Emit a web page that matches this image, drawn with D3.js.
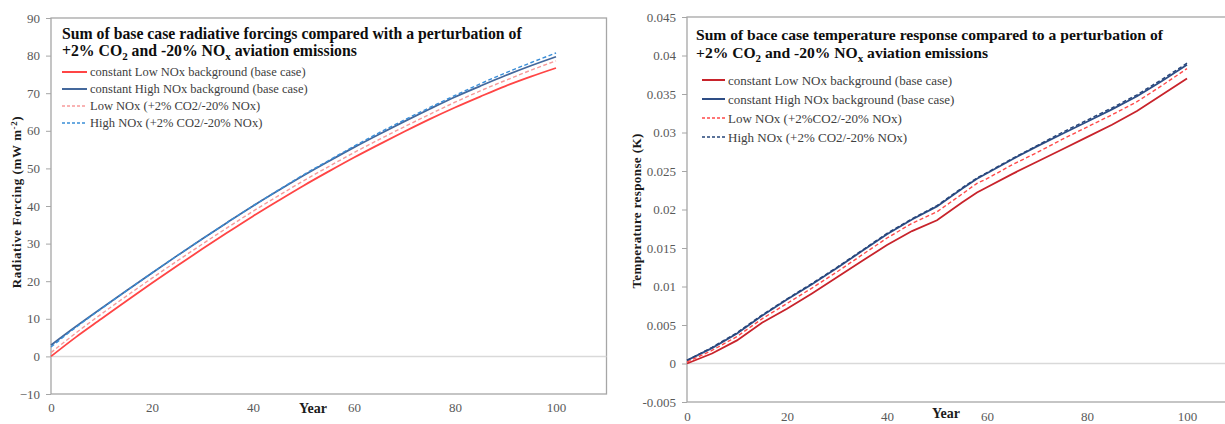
<!DOCTYPE html>
<html>
<head>
<meta charset="utf-8">
<script src="https://cdn.jsdelivr.net/npm/d3@7"></script>
<style>
  body { margin: 0; background: #fff; }
  svg text { font-family: "Liberation Serif", "Times New Roman", serif; }
</style>
</head>
<body>
<div id="chart"></div>
<script>
// Radiative forcing panel (mW m-2)
const rfYears = [0, 5, 10, 15, 20, 25, 30, 35, 40, 45, 50, 55, 60, 65, 70, 75, 80, 85, 90, 95, 100];
const rfLowBase = [0, 5.2, 10, 14.8, 19.5, 24.1, 28.6, 33, 37.3, 41.4, 45.4, 49.2, 52.9, 56.4, 59.8, 63.1, 66.2, 69.1, 71.9, 74.4, 76.7];
const rfHighBase = [3, 8, 12.8, 17.5, 22.2, 26.8, 31.3, 35.7, 40, 44.1, 48.1, 51.9, 55.6, 59.1, 62.5, 65.8, 69, 71.9, 74.7, 77.3, 79.7];
const rfLowPert = [1, 6.3, 11.3, 16.1, 20.8, 25.4, 29.9, 34.3, 38.6, 42.7, 46.7, 50.5, 54.2, 57.7, 61.1, 64.4, 67.6, 70.6, 73.4, 76.1, 78.6];
const rfHighPert = [2.5, 7.8, 12.7, 17.5, 22.2, 26.8, 31.3, 35.7, 40, 44.2, 48.3, 52.1, 55.9, 59.5, 62.9, 66.2, 69.4, 72.5, 75.4, 78.1, 80.7];

// Temperature response panel (K)
const tYears = [0, 5, 10, 15, 20, 25, 30, 35, 40, 45, 50, 55, 58, 60, 65, 70, 75, 80, 85, 90, 95, 100];
const tLowBase = [0, 0.0013, 0.0030, 0.0053, 0.0071, 0.0091, 0.0112, 0.0133, 0.0154, 0.0172, 0.0186, 0.0209, 0.0222, 0.0229, 0.0246, 0.0262, 0.0278, 0.0294, 0.0310, 0.0328, 0.0349, 0.0370];
const tHighBase = [0.0004, 0.0020, 0.0039, 0.0062, 0.0083, 0.0103, 0.0124, 0.0146, 0.0168, 0.0187, 0.0204, 0.0227, 0.0240, 0.0247, 0.0265, 0.0282, 0.0298, 0.0314, 0.0330, 0.0347, 0.0367, 0.0388];
const tLowPert = [0.0002, 0.0017, 0.0035, 0.0058, 0.0078, 0.0098, 0.0119, 0.0141, 0.0163, 0.0182, 0.0197, 0.0220, 0.0234, 0.0240, 0.0258, 0.0274, 0.0291, 0.0307, 0.0323, 0.0340, 0.0361, 0.0383];
const tHighPert = [0.0004, 0.0021, 0.0040, 0.0063, 0.0084, 0.0104, 0.0125, 0.0147, 0.0169, 0.0188, 0.0205, 0.0228, 0.0241, 0.0248, 0.0266, 0.0283, 0.0300, 0.0316, 0.0332, 0.0349, 0.0369, 0.0390];

const legendNamesRf = ["constant Low NOx background (base case)", "constant High NOx background (base case)", "Low NOx (+2% CO2/-20% NOx)", "High NOx (+2% CO2/-20% NOx)"];
const legendNamesT = ["constant Low NOx background (base case)", "constant High NOx background (base case)", "Low NOx (+2%CO2/-20% NOx)", "High NOx (+2% CO2/-20% NOx)"];
const xTicks = [0, 20, 40, 60, 80, 100];
const rfTicks = [-10, 0, 10, 20, 30, 40, 50, 60, 70, 80, 90];
const tTicks = [-0.005, 0, 0.005, 0.01, 0.015, 0.02, 0.025, 0.03, 0.035, 0.04, 0.045];

const serif = "'Liberation Serif', 'Times New Roman', serif";

const svg = d3.select("#chart")
  .append("svg")
  .attr("width", 1225)
  .attr("height", 424);

function panel(cfg) {
  const x = d3.scaleLinear().domain([0, 110]).range([cfg.left, cfg.left + cfg.pxPerYear * 110]);
  const y = d3.scaleLinear().domain(cfg.yDomain).range([cfg.bottom, cfg.top]);
  const g = svg.append("g");

  // plot box
  g.append("rect")
    .attr("x", x(0)).attr("y", y(cfg.yDomain[1]))
    .attr("width", x(110) - x(0)).attr("height", y(cfg.yDomain[0]) - y(cfg.yDomain[1]))
    .attr("fill", "none").attr("stroke", "#a6a6a6").attr("stroke-width", 1.3);

  // zero line
  g.append("line")
    .attr("x1", x(0)).attr("x2", x(110))
    .attr("y1", y(0)).attr("y2", y(0))
    .attr("stroke", "#d9d9d9").attr("stroke-width", 1.5);

  // y axis
  const yAxis = d3.axisLeft(y).tickValues(cfg.yTicks).tickSize(5).tickPadding(6).tickFormat(cfg.fmt);
  g.append("g")
    .attr("transform", `translate(${x(0)},0)`)
    .call(yAxis)
    .attr("font-family", serif).attr("font-size", 13)
    .call(a => a.select(".domain").remove())
    .call(a => a.selectAll("line").attr("stroke", "#a6a6a6"))
    .call(a => a.selectAll("text").attr("fill", "#595959"));

  // x axis labels
  const xAxis = d3.axisBottom(x).tickValues(xTicks).tickSize(0).tickPadding(cfg.xPad);
  g.append("g")
    .attr("transform", `translate(0,${y(cfg.yDomain[0])})`)
    .call(xAxis)
    .attr("font-family", serif).attr("font-size", 13)
    .call(a => a.select(".domain").remove())
    .call(a => a.selectAll("text").attr("fill", "#595959"));

  g.append("text")
    .attr("x", cfg.yearX).attr("y", cfg.yearY)
    .attr("text-anchor", "middle")
    .style("font-size", "14px").style("font-weight", "bold").attr("fill", "#1a1a1a")
    .text("Year");

  // y title
  const yt = g.append("text")
    .attr("transform", `translate(${cfg.yTitleX},${cfg.yTitleY}) rotate(-90)`)
    .attr("text-anchor", "middle")
    .style("font-size", "13px").style("font-weight", "bold").attr("fill", "#1a1a1a")
    .style("letter-spacing", cfg.yTitleSpacing);
  cfg.yTitle(yt);

  // title, two lines
  g.append("text")
    .attr("x", cfg.titleX).attr("y", cfg.titleY)
    .style("font-size", cfg.titleFont).style("font-weight", "bold").attr("fill", "#0d0d0d")
    .text(cfg.title);
  const t2 = g.append("text")
    .attr("x", cfg.titleX).attr("y", cfg.titleY + cfg.titleGap)
    .style("font-size", cfg.titleFont).style("font-weight", "bold").attr("fill", "#0d0d0d");
  t2.append("tspan").text("+2% CO");
  t2.append("tspan").attr("dy", 4).style("font-size", "11px").text("2");
  t2.append("tspan").attr("dy", -4).text(" and -20% NO");
  t2.append("tspan").attr("dy", 4).style("font-size", "11px").text("x");
  t2.append("tspan").attr("dy", -4).text(" aviation emissions");

  // lines
  const line = d3.line()
    .x(d => x(d[0]))
    .y(d => y(d[1]))
    .curve(cfg.curve);

  cfg.series.forEach(s => {
    g.append("path")
      .datum(cfg.years.map((yr, i) => [yr, s.values[i]]))
      .attr("fill", "none")
      .attr("stroke", s.color)
      .attr("stroke-width", s.dash ? 1.4 : 1.8)
      .attr("stroke-dasharray", s.dash ? "4,2.5" : null)
      .attr("d", line);
  });

  // legend
  cfg.series.forEach((s, i) => {
    const ly = cfg.legendY + i * cfg.legendStep;
    g.append("line")
      .attr("x1", cfg.legendX).attr("x2", cfg.legendX + cfg.sampleW)
      .attr("y1", ly).attr("y2", ly)
      .attr("stroke", s.color)
      .attr("stroke-width", s.dash ? 1.4 : 2)
      .attr("stroke-dasharray", s.dash ? "3,2" : null);
    g.append("text")
      .attr("x", cfg.legendX + cfg.sampleW + 3).attr("y", ly)
      .attr("dy", "0.35em")
      .style("font-size", cfg.legendFont).attr("fill", "#404040")
      .text(cfg.names[i]);
  });
}

panel({
  left: 51, pxPerYear: 5.05, top: 18, bottom: 394,
  yDomain: [-10, 90], yTicks: rfTicks, fmt: d3.format("d"), xPad: 9,
  yearX: 313, yearY: 413,
  yTitleX: 21, yTitleY: 202, yTitleSpacing: "0.6px",
  yTitle: t => {
    t.append("tspan").text("Radiative  Forcing  (mW m");
    t.append("tspan").attr("dy", -4).style("font-size", "9px").text("-2");
    t.append("tspan").attr("dy", 4).text(")");
  },
  titleX: 62, titleY: 39, titleGap: 17, titleFont: "15.75px",
  title: "Sum of base case radiative forcings compared with a perturbation of",
  years: rfYears, curve: d3.curveMonotoneX,
  series: [
    { values: rfLowBase, color: "#ff4545", dash: false },
    { values: rfHighBase, color: "#44689c", dash: false },
    { values: rfLowPert, color: "#f79a9a", dash: true },
    { values: rfHighPert, color: "#3a8ed8", dash: true }
  ],
  names: legendNamesRf,
  legendX: 62, legendY: 72, legendStep: 17, sampleW: 25, legendFont: "12.5px"
});

panel({
  left: 687, pxPerYear: 5.0, top: 17, bottom: 402,
  yDomain: [-0.005, 0.045], yTicks: tTicks, fmt: d => d === 0 ? "0" : String(+d.toFixed(3)), xPad: 10,
  yearX: 946, yearY: 418,
  yTitleX: 641, yTitleY: 211, yTitleSpacing: "0.4px",
  yTitle: t => {
    t.text("Temperature  response  (K)");
  },
  titleX: 696, titleY: 40, titleGap: 18, titleFont: "15.6px",
  title: "Sum of bace case temperature response compared to a perturbation of",
  years: tYears, curve: d3.curveLinear,
  series: [
    { values: tLowBase, color: "#c8232b", dash: false },
    { values: tHighBase, color: "#2e4d85", dash: false },
    { values: tLowPert, color: "#ff4a4a", dash: true },
    { values: tHighPert, color: "#26457a", dash: true }
  ],
  names: legendNamesT,
  legendX: 702, legendY: 80, legendStep: 19, sampleW: 23, legendFont: "13px"
});
</script>
</body>
</html>
